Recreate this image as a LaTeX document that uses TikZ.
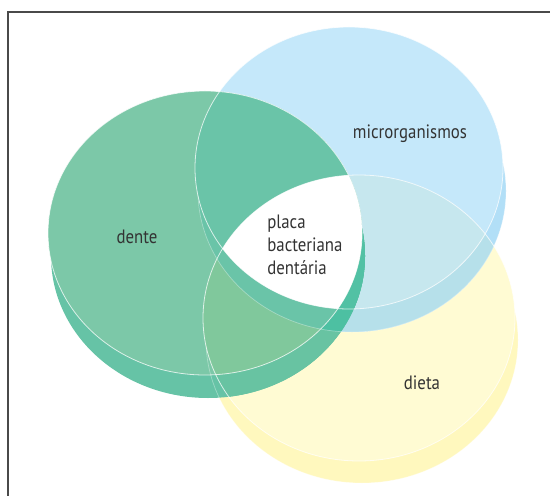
\documentclass[tikz,border=0pt]{standalone}
\usepackage{fontspec}
\setmainfont{PT Sans}[FakeStretch=0.87]

% disk colours: top faces, side bands and the blended overlaps
\definecolor{yface}{HTML}{FFFBD3}
\definecolor{yside}{HTML}{FFF8BE}
\definecolor{bface}{HTML}{C5E8FA}
\definecolor{bside}{HTML}{B2DFF7}
\definecolor{byside}{HTML}{B6E0EA}
\definecolor{byface}{HTML}{C6E7EE}
\definecolor{gface}{HTML}{7CC8A8}
\definecolor{gside}{HTML}{66C3A6}
\definecolor{gsidey}{HTML}{68C3A2}
\definecolor{gsideb}{HTML}{4DC0A2}
\definecolor{gsidebf}{HTML}{52C1A4}
\definecolor{gfacey}{HTML}{80C89C}
\definecolor{gfaceb}{HTML}{6AC4A8}
\definecolor{ink}{HTML}{333333}
\definecolor{framegray}{HTML}{4A4A4A}

\tikzset{
  % top faces and the side bands below them
  Fg/.style={insert path={(205,233) ellipse [x radius=157, y radius=142]}},
  Sg/.style={insert path={(208,256) ellipse [x radius=157, y radius=142]}},
  Fb/.style={insert path={(349,168) ellipse [x radius=154, y radius=141]}},
  Sb/.style={insert path={(352,191) ellipse [x radius=154, y radius=141]}},
  Fy/.style={insert path={(359,318) ellipse [x radius=156, y radius=143]}},
  Sy/.style={insert path={(362,340) ellipse [x radius=156, y radius=143]}},
  faceline/.style={draw=white, draw opacity=0.75, line width=0.45pt},
  sideline/.style={draw=white, draw opacity=0.35, line width=0.4pt},
  lbl/.style={font=\fontsize{11}{13}\selectfont, text=ink, inner sep=0pt},
  frameline/.style={draw=framegray, line width=0.65pt}
}

\begin{document}
\begin{tikzpicture}[x=0.02cm, y=-0.02cm]
\useasboundingbox (0,0) rectangle (550,496);

% frame
\draw[frameline] (550,12) -- (8,12) -- (8,496);

% diet disk
\fill[yside, Sy];
\fill[yface, Fy];

% microorganisms disk
\fill[bside, Sb];
\fill[bface, Fb];
\begin{scope}\clip[Sb]; \fill[byside, Fy];\end{scope}
\begin{scope}\clip[Fb]; \fill[byface, Fy];\end{scope}

% tooth disk: side band
\fill[gside, Sg];
\begin{scope}\clip[Sg]; \fill[gsidey, Fy];\end{scope}
\begin{scope}\clip[Sg]; \fill[gsideb, Sb];\end{scope}
\begin{scope}\clip[Sg]; \fill[gsidebf, Fb];\end{scope}

% tooth disk: top face
\fill[gface, Fg];
\begin{scope}\clip[Fg]; \fill[gfacey, Fy];\end{scope}
\begin{scope}\clip[Fg]; \fill[gfaceb, Sb];\end{scope}
\begin{scope}\clip[Fg]; \fill[gfaceb, Fb];\end{scope}
% common region of the three faces
\begin{scope}\clip[Fg]; \clip[Fb]; \fill[white, Fy];\end{scope}

% rims of the side bands, only below their own faces
\begin{scope}[even odd rule]
  \clip[Fy] (0,0) rectangle (550,496);
  \path[sideline, Sy];
\end{scope}
\begin{scope}[even odd rule]
  \clip[Fb] (0,0) rectangle (550,496);
  \path[sideline, Sb];
\end{scope}

% rims of the faces
\path[faceline, Fy];
\path[faceline, Fb];
\path[faceline, Fg];

% labels
\node[lbl, anchor=base] (dente) at (137,243) {dente};
\node[lbl, anchor=base] (micro) at (410,139) {microrganismos};
\node[lbl, anchor=base] (dieta) at (422,389) {dieta};
\node[lbl, anchor=north west, align=left] (placa) at (267,215)
  {placa\\bacteriana\\dentária};
\end{tikzpicture}
\end{document}
